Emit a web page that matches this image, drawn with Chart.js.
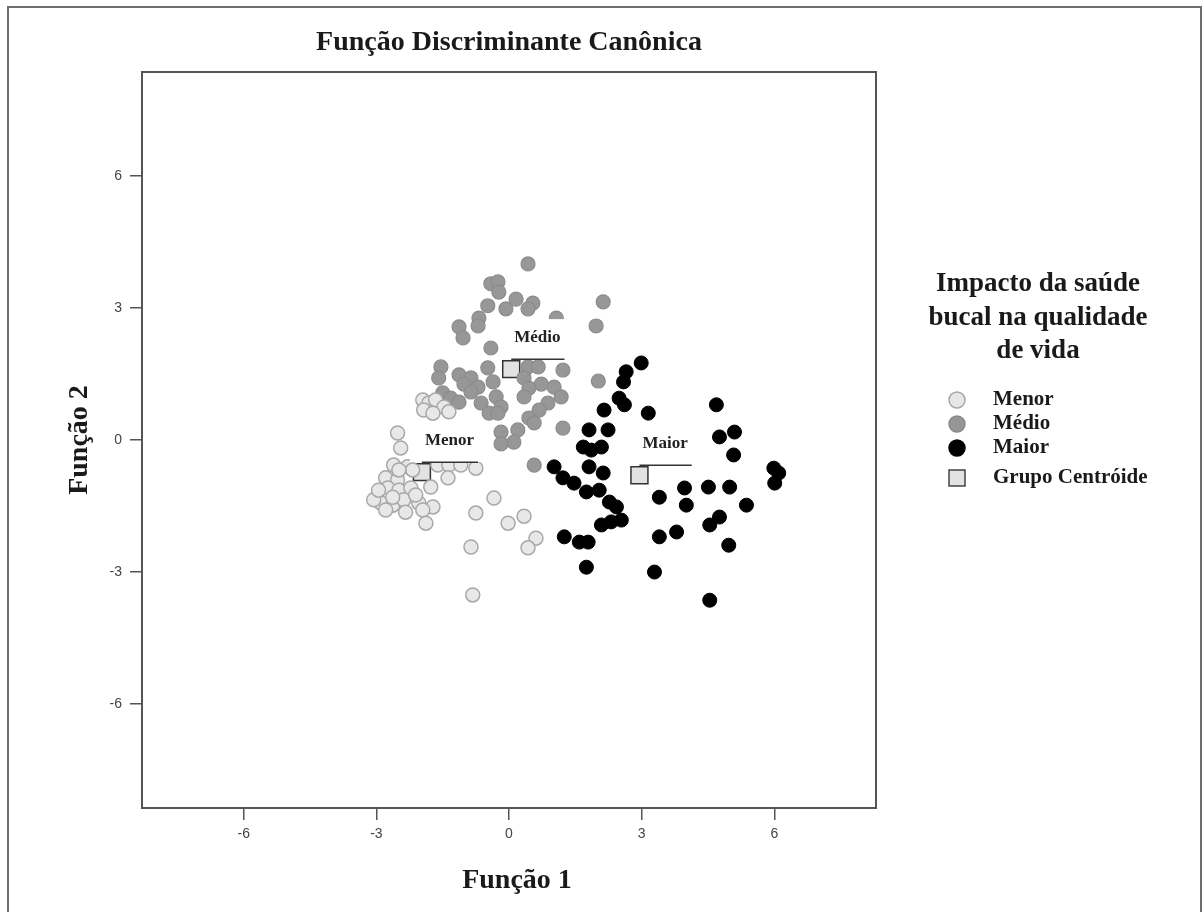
<!DOCTYPE html>
<html>
<head>
<meta charset="utf-8">
<script src="https://cdn.jsdelivr.net/npm/chart.js@4/dist/chart.umd.min.js"></script>
<style>
  html, body { margin: 0; padding: 0; background: #fff; }
  #wrap { position: relative; width: 1204px; height: 912px; }
</style>
</head>
<body>
<div id="wrap"><canvas id="chart" width="1204" height="912"></canvas></div>
<script>
// tick labels
const xTicks = [-6, -3, 0, 3, 6];
const yTicks = [-6, -3, 0, 3, 6];

// groups
const groupNames = ["Menor", "Médio", "Maior"];

const menorX = [-1.95, -1.81, -1.66, -1.47, -1.93, -1.72, -1.36, -2.52, -2.45, -2.61, -2.29, -1.61, -1.36, -1.09, -0.75,
  -1.38, -1.77, -2.79, -2.52, -2.74, -2.49, -2.22, -2.90, -2.63, -2.38, -2.34, -2.04, -1.72, -1.95, -2.63, -2.11,
  -1.88, -0.34, -0.75, -0.02, 0.34, 0.61, 0.43, -0.86, -0.82, -3.06, -2.95, -2.79, -2.18, -2.49];
const menorY = [0.91, 0.84, 0.91, 0.75, 0.68, 0.61, 0.64, 0.16, -0.18, -0.57, -0.61, -0.57, -0.57, -0.57, -0.64,
  -0.86, -1.07, -0.86, -0.91, -1.09, -1.14, -1.09, -1.43, -1.48, -1.36, -1.64, -1.43, -1.52, -1.59, -1.30, -1.25,
  -1.89, -1.32, -1.66, -1.89, -1.73, -2.23, -2.45, -2.43, -3.52, -1.36, -1.14, -1.59, -0.68, -0.68];

const medioX = [0.43, -0.41, -0.25, -0.23, -0.48, -0.07, 0.16, 0.54, 0.43, -0.68, -0.70, -1.13, -1.04, -0.41, 2.13,
  1.97, -1.54, -1.59, -1.13, -0.86, -1.02, -0.70, -0.48, -0.36, -0.86, 0.43, 0.66, 0.34, 0.73, 0.45, 1.22, 2.02,
  -1.50, -1.32, -1.13, -0.63, -0.29, -0.18, -0.45, -0.25, 0.34, 1.02, 1.18, 0.88, 0.68, 0.45, 0.57, 1.22, 0.20,
  0.11, -0.18, -0.18, 0.57, 1.07];
const medioY = [4.00, 3.55, 3.59, 3.36, 3.05, 2.98, 3.20, 3.11, 2.98, 2.77, 2.59, 2.57, 2.32, 2.09, 3.14,
  2.59, 1.66, 1.41, 1.48, 1.41, 1.27, 1.20, 1.64, 1.32, 1.09, 1.66, 1.66, 1.41, 1.27, 1.18, 1.59, 1.34,
  1.07, 0.95, 0.86, 0.84, 0.98, 0.75, 0.61, 0.61, 0.98, 1.20, 0.98, 0.84, 0.68, 0.50, 0.39, 0.27, 0.23,
  -0.05, 0.18, -0.09, -0.57, 2.77];

const maiorX = [2.99, 2.65, 2.59, 2.49, 2.61, 2.15, 3.15, 4.69, 4.76, 5.10, 5.08, 1.81, 2.24, 1.68, 1.86, 2.09,
  1.81, 2.13, 1.02, 1.22, 1.47, 1.75, 2.04, 2.27, 2.43, 2.54, 2.31, 2.09, 1.25, 1.59, 1.79, 1.75, 3.40, 3.97,
  4.01, 4.51, 4.99, 5.37, 3.79, 3.40, 4.54, 4.76, 4.97, 3.29, 4.54, 5.99, 6.10, 6.01];
const maiorY = [1.75, 1.55, 1.32, 0.95, 0.80, 0.68, 0.61, 0.80, 0.07, 0.18, -0.34, 0.23, 0.23, -0.16, -0.23, -0.16,
  -0.61, -0.75, -0.61, -0.86, -0.98, -1.18, -1.14, -1.41, -1.52, -1.82, -1.86, -1.93, -2.20, -2.32, -2.32, -2.89, -1.30, -1.09,
  -1.48, -1.07, -1.07, -1.48, -2.09, -2.20, -1.93, -1.75, -2.39, -3.00, -3.64, -0.64, -0.75, -0.98];

// group centroids
const centroidX = [-1.97, 0.05, 2.95];
const centroidY = [-0.73, 1.61, -0.80];

function pts(xs, ys) {
  return xs.map((x, i) => ({ x: x, y: ys[i] }));
}

const serif = "'Liberation Serif', 'Times New Roman', serif";

const decor = {
  id: "decor",
  afterDatasetsDraw(chart) {
    const ctx = chart.ctx;
    const xs = chart.scales.x, ys = chart.scales.y;
    // centroid labels: white box, text, underline
    ctx.save();
    ctx.font = "bold 17px " + serif;
    for (let i = 0; i < groupNames.length; i++) {
      const px = xs.getPixelForValue(centroidX[i]);
      const py = ys.getPixelForValue(centroidY[i]);
      const tw = ctx.measureText(groupNames[i]).width;
      const tx = px + 3;
      const lineY = py - 10;
      ctx.fillStyle = "#fff";
      ctx.fillRect(px - 12, lineY - 40, tw + 30, 40);
      ctx.fillStyle = "#222";
      ctx.textAlign = "left";
      ctx.textBaseline = "middle";
      ctx.fillText(groupNames[i], tx, lineY - 22);
      ctx.strokeStyle = "#333";
      ctx.lineWidth = 1.5;
      ctx.beginPath();
      ctx.moveTo(px, lineY);
      ctx.lineTo(tx + tw + 4, lineY);
      ctx.stroke();
    }
    ctx.restore();
  },
  afterDraw(chart) {
    const ctx = chart.ctx;
    const a = chart.chartArea;
    ctx.save();
    // outer frame
    ctx.strokeStyle = "#6e6e6e";
    ctx.lineWidth = 2;
    ctx.strokeRect(8, 7, 1193, 930);
    // plot frame
    ctx.strokeStyle = "#555";
    ctx.lineWidth = 2;
    ctx.strokeRect(a.left, a.top, a.right - a.left, a.bottom - a.top);

    ctx.fillStyle = "#1a1a1a";
    ctx.textAlign = "center";
    ctx.textBaseline = "middle";
    ctx.font = "bold 28px " + serif;
    ctx.fillText("Função Discriminante Canônica", (a.left + a.right) / 2, 43);
    ctx.fillText("Função 1", (a.left + a.right) / 2 + 8, 881);
    ctx.save();
    ctx.translate(80, 440);
    ctx.rotate(-Math.PI / 2);
    ctx.fillText("Função 2", 0, 0);
    ctx.restore();

    // legend
    ctx.font = "bold 27px " + serif;
    ctx.fillText("Impacto da saúde", 1038, 284);
    ctx.fillText("bucal na qualidade", 1038, 318);
    ctx.fillText("de vida", 1038, 351);

    const items = [
      { y: 400, fill: "#e6e6e6", stroke: "#a5a5a5", shape: "circle" },
      { y: 424, fill: "#969696", stroke: "#8a8a8a", shape: "circle" },
      { y: 448, fill: "#000", stroke: "#000", shape: "circle" },
      { y: 478, fill: "#e2e2e2", stroke: "#444", shape: "rect" }
    ];
    const labels = groupNames.concat(["Grupo Centróide"]);
    ctx.font = "bold 21px " + serif;
    ctx.textAlign = "left";
    items.forEach((it, i) => {
      ctx.fillStyle = it.fill;
      ctx.strokeStyle = it.stroke;
      ctx.lineWidth = 1.5;
      ctx.beginPath();
      if (it.shape === "circle") {
        ctx.arc(957, it.y, 8, 0, Math.PI * 2);
      } else {
        ctx.rect(949, it.y - 8, 16, 16);
      }
      ctx.fill();
      ctx.stroke();
      ctx.fillStyle = "#1a1a1a";
      ctx.fillText(labels[i], 993, it.y);
    });
    ctx.restore();
  }
};

new Chart(document.getElementById("chart"), {
  type: "scatter",
  data: {
    datasets: [
      {
        label: "Menor",
        data: pts(menorX, menorY),
        backgroundColor: "#e8e8e8",
        borderColor: "#a8a8a8",
        borderWidth: 1.5,
        pointRadius: 7
      },
      {
        label: "Médio",
        data: pts(medioX, medioY),
        backgroundColor: "#979797",
        borderColor: "#8c8c8c",
        borderWidth: 1.2,
        pointRadius: 7
      },
      {
        label: "Maior",
        data: pts(maiorX, maiorY),
        backgroundColor: "#000",
        borderColor: "#000",
        borderWidth: 1,
        pointRadius: 7
      },
      {
        label: "Grupo Centróide",
        data: pts(centroidX, centroidY),
        backgroundColor: "#e2e2e2",
        borderColor: "#333",
        borderWidth: 1.5,
        pointStyle: "rect",
        pointRadius: 12
      }
    ]
  },
  options: {
    responsive: false,
    animation: false,
    events: [],
    layout: { padding: { left: 0, top: 72, right: 328, bottom: 0 } },
    plugins: {
      legend: { display: false },
      title: { display: false },
      tooltip: { enabled: false }
    },
    scales: {
      x: {
        type: "linear",
        min: -8.3,
        max: 8.3,
        afterBuildTicks: (s) => { s.ticks = xTicks.map(v => ({ value: v })); },
        afterFit: (s) => { s.height = 104; },
        ticks: { color: "#444", font: { family: "'Liberation Sans', Arial, sans-serif", size: 14 }, padding: 6 },
        grid: { drawOnChartArea: false, drawTicks: true, tickLength: 12, color: "#555", lineWidth: 1.5 },
        border: { display: true, color: "#555", width: 2 }
      },
      y: {
        type: "linear",
        min: -8.36,
        max: 8.36,
        afterBuildTicks: (s) => { s.ticks = yTicks.map(v => ({ value: v })); },
        afterFit: (s) => { s.width = 142; },
        ticks: { color: "#444", font: { family: "'Liberation Sans', Arial, sans-serif", size: 14 }, padding: 8 },
        grid: { drawOnChartArea: false, drawTicks: true, tickLength: 12, color: "#555", lineWidth: 1.5 },
        border: { display: true, color: "#555", width: 2 }
      }
    }
  },
  plugins: [decor]
});
</script>
</body>
</html>
